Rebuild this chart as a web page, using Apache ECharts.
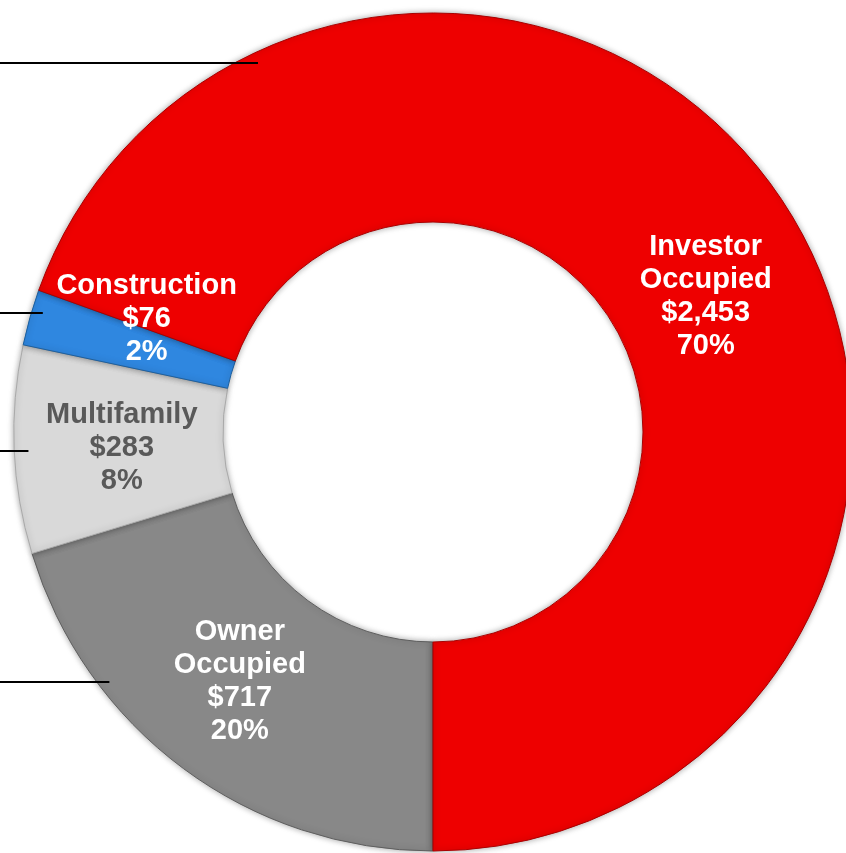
<!DOCTYPE html>
<html>
<head>
<meta charset="utf-8">
<script src="https://cdn.jsdelivr.net/npm/echarts@6/dist/echarts.min.js"></script>
<style>
  html, body { margin: 0; padding: 0; background: #fff; }
  #chart { width: 846px; height: 853px; }
</style>
</head>
<body>
<div id="chart"></div>
<script>
// 数据
var categories = ['Owner\nOccupied', 'Multifamily', 'Construction', 'Investor\nOccupied'];
var values = [717, 283, 76, 2453];
var percents = ['20%', '8%', '2%', '70%'];

var colors = ['#888888', '#d9d9d9', '#2f87e0', '#ee0000'];
var edgeColors = ['#5e5e5e', '#a9a9a9', '#1c5f9e', '#a80000'];
var textColors = ['#fff', '#595959', '#fff', '#fff'];
// 标签微调
var labelOffsets = [[-4, -5], [6, 3], [19, -26], [13, 47]];

var cx = 433, cy = 432, rIn = 210, rOut = 419;

// 左侧引线 (角度, 半径)
var leaders = [[115.4, 408], [163, 408], [182.7, 405], [217.7, 409]];

function fmt(v) {
  return '$' + v.toString().replace(/\B(?=(\d{3})+(?!\d))/g, ',');
}

var chart = echarts.init(document.getElementById('chart'));

var data = categories.map(function (c, i) {
  return {
    name: c,
    value: values[i],
    itemStyle: {
      color: colors[i],
      borderColor: edgeColors[i],
      borderWidth: 1
    },
    label: { color: textColors[i], offset: labelOffsets[i] }
  };
});

var graphics = leaders.map(function (l) {
  var a = l[0] * Math.PI / 180;
  var x = cx + l[1] * Math.cos(a);
  var y = Math.round(cy - l[1] * Math.sin(a));
  return {
    type: 'line',
    z: 100,
    shape: { x1: 0, y1: y, x2: x, y2: y },
    style: { stroke: '#000', lineWidth: 2 }
  };
});

chart.setOption({
  animation: false,
  graphic: graphics,
  series: [{
    type: 'pie',
    center: [cx, cy],
    radius: [rIn, rOut],
    startAngle: -90,
    clockwise: true,
    silent: true,
    itemStyle: {
      shadowBlur: 6,
      shadowColor: 'rgba(0,0,0,0.35)'
    },
    label: {
      show: true,
      position: 'inside',
      fontFamily: 'Liberation Sans, Arial, sans-serif',
      fontWeight: 'bold',
      fontSize: 29,
      lineHeight: 33,
      align: 'center',
      formatter: function (p) {
        return p.name + '\n' + fmt(p.value) + '\n' + percents[p.dataIndex];
      }
    },
    labelLine: { show: false },
    data: data
  }]
});
</script>
</body>
</html>
